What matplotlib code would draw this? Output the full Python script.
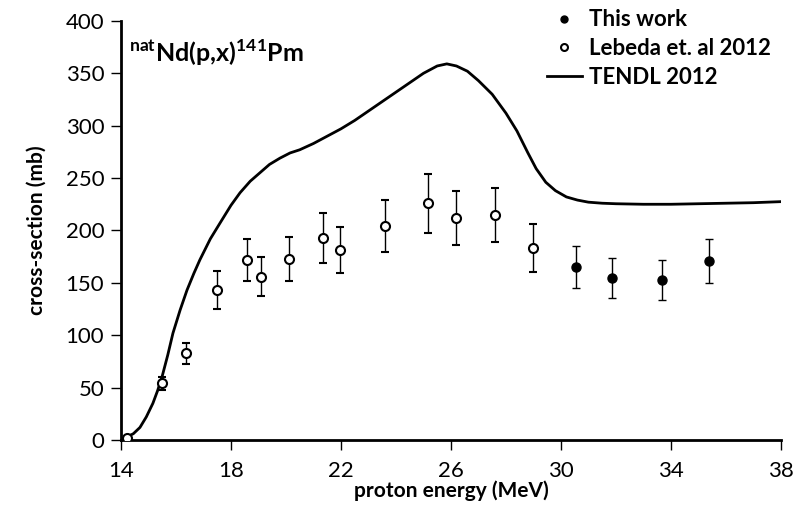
import matplotlib
matplotlib.use("Agg")
import matplotlib.pyplot as plt
from matplotlib.lines import Line2D

plt.rcParams["font.family"] = ["Lato", "DejaVu Sans"]
plt.rcParams["mathtext.fontset"] = "custom"
plt.rcParams["mathtext.rm"] = "Lato:bold"
plt.rcParams["mathtext.bf"] = "Lato:bold"

# Lebeda et al. 2012 (open circles)
leb_e = [14.22, 15.49, 16.36, 17.49, 18.58, 19.09, 20.1, 21.35, 21.96, 23.6, 25.16, 26.2, 27.6, 29.0]
leb_s = [1.5, 54, 83, 143, 172, 156, 173, 193, 181, 204, 226, 212, 215, 183]
leb_err = [1, 6, 10, 18, 20, 19, 21, 24, 22, 25, 28, 26, 26, 23]

# this work (filled circles)
tw_e = [30.55, 31.85, 33.67, 35.38]
tw_s = [165, 155, 153, 171]
tw_err = [20, 19, 19, 21]

# TENDL 2012 curve
tendl_e = [14.0, 14.22, 14.45, 14.69, 14.92, 15.16, 15.33, 15.49, 15.7, 15.89, 16.15, 16.4,
           16.65, 16.87, 17.25, 17.6, 18.0, 18.33, 18.7, 19.05, 19.4, 19.78, 20.15, 20.5,
           21.0, 21.5, 22.0, 22.5, 23.0, 23.5, 24.0, 24.5, 25.0, 25.5, 25.85, 26.2,
           26.6, 27.0, 27.5, 28.0, 28.4, 28.8, 29.1, 29.45, 29.8, 30.2, 30.6, 31.0,
           31.5, 32.0, 33.0, 34.0, 35.0, 36.0, 37.0, 38.0]
tendl_s = [0, 3, 6, 12, 22, 35, 47, 60, 81, 102, 124, 143,
           159, 172, 192, 207, 224, 236, 247, 255, 263, 269, 274, 277,
           283, 290, 297, 305, 314, 323, 332, 341, 350, 357, 359, 357,
           352, 343, 330, 312, 295, 274, 259, 246, 238, 232, 229, 227,
           226, 225.5, 225, 225, 225.5, 226, 226.5, 227.5]

fig = plt.figure(figsize=(7.96, 5.18), dpi=100)
ax = fig.add_axes([0.152, 0.1506, 0.829, 0.809])

ax.plot(tendl_e, tendl_s, color="black", lw=2, zorder=2)
ax.errorbar(leb_e, leb_s, yerr=leb_err, fmt="o", ms=6.5, mfc="white", mec="black",
            mew=1.5, ecolor="black", elinewidth=1, capsize=3, capthick=1, zorder=3)
ax.errorbar(tw_e, tw_s, yerr=tw_err, fmt="o", ms=6.5, mfc="black", mec="black",
            ecolor="black", elinewidth=1, capsize=3, capthick=1, zorder=3)

ax.set_xlim(14, 38)
ax.set_ylim(0, 400)
ax.set_xticks(range(14, 39, 4))
ax.set_yticks(range(0, 401, 50))
for s in ("top", "right"):
    ax.spines[s].set_visible(False)
for s in ("left", "bottom"):
    ax.spines[s].set_linewidth(2)
ax.tick_params(axis="both", direction="out", length=7, width=1, labelsize=16, pad=5)
ax.tick_params(axis="x", pad=8)

ax.set_xlabel("proton energy (MeV)", fontsize=15, fontweight="bold", labelpad=0)
ax.set_ylabel("cross-section (mb)", fontsize=15, fontweight="bold", labelpad=14)

ax.text(0.012, 0.96, r"$^{\mathrm{nat}}$Nd(p,x)$^{\mathrm{141}}$Pm", transform=ax.transAxes,
        fontsize=18, fontweight="bold", va="top", ha="left")

handles = [
    Line2D([], [], ls="none", marker="o", ms=5, mfc="black", mec="black"),
    Line2D([], [], ls="none", marker="o", ms=5, mfc="white", mec="black", mew=1.5),
    Line2D([], [], color="black", lw=2),
]
labels = ["This work", "Lebeda et. al 2012", "TENDL 2012"]
leg = ax.legend(handles, labels, loc="upper right", bbox_to_anchor=(1.015, 1.075),
                frameon=False, handlelength=1.6, handletextpad=0.3, labelspacing=0.35,
                prop={"size": 16, "weight": "bold"})

fig.savefig("out.png", dpi=100)
